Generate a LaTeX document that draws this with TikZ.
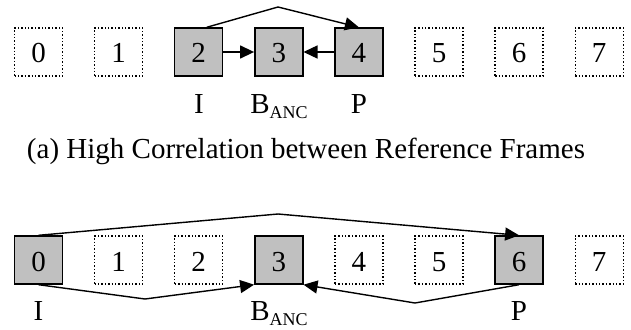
\documentclass[tikz,border=0pt]{standalone}
\usepackage{fontspec}
\setmainfont{Liberation Serif}
\usetikzlibrary{arrows.meta}
\definecolor{boxgray}{RGB}{192,192,192}
\tikzset{
  frame/.style={draw, minimum width=48pt, minimum height=48pt, inner sep=0pt,
    text height=22pt, text depth=0pt, font=\fontsize{29}{34}\selectfont},
  refbox/.style={frame, fill=boxgray, line width=1.4pt},
  skipbox/.style={frame, dotted, line width=1.4pt},
  link/.style={line width=1.4pt, -{Triangle[length=14pt,width=13pt]}},
  lbl/.style={font=\fontsize{29}{34}\selectfont, anchor=base, inner sep=0pt},
}
\newcommand{\banc}{B\raisebox{-5pt}{\fontsize{18}{18}\selectfont ANC}}
\begin{document}
\begin{tikzpicture}[x=1pt,y=-1pt]
\useasboundingbox (0,0) rectangle (631,329);
% row (a)
\node[skipbox] (a0) at (38.5,52) {0};
\node[skipbox] (a1) at (118.6,52) {1};
\node[refbox]  (a2) at (198.7,52) {2};
\node[refbox]  (a3) at (278.8,52) {3};
\node[refbox]  (a4) at (358.9,52) {4};
\node[skipbox] (a5) at (439.0,52) {5};
\node[skipbox] (a6) at (519.1,52) {6};
\node[skipbox] (a7) at (599.2,52) {7};
\node[lbl] (la2) at (199,113) {I};
\node[lbl] (la3) at (279,113) {\banc};
\node[lbl] (la4) at (359,113) {P};
\coordinate (t1) at (278,7);
\draw[link] (a2.east) -- (a3.west);
\draw[link] (a4.west) -- (a3.east);
\draw[link] ([xshift=8pt]a2.north) -- (t1) -- (a4.north);
\node[lbl] (capa) at (306,158) {(a) High Correlation between Reference Frames};
% row (b)
\node[refbox]  (b0) at (38.5,260) {0};
\node[skipbox] (b1) at (118.6,260) {1};
\node[skipbox] (b2) at (198.7,260) {2};
\node[refbox]  (b3) at (278.8,260) {3};
\node[skipbox] (b4) at (358.9,260) {4};
\node[skipbox] (b5) at (439.0,260) {5};
\node[refbox]  (b6) at (519.1,260) {6};
\node[skipbox] (b7) at (599.2,260) {7};
\node[lbl] (lb0) at (38.5,320) {I};
\node[lbl] (lb3) at (279,320) {\banc};
\node[lbl] (lb6) at (519,320) {P};
\coordinate (t2) at (278,214);
\coordinate (u1) at (145,299);
\coordinate (u2) at (415,303);
\draw[link] (b0.north) -- (t2) -- (b6.north);
\draw[link] (b0.south) -- (u1) -- (b3.south west);
\draw[link] (b6.south) -- (u2) -- (b3.south east);
\end{tikzpicture}
\end{document}
